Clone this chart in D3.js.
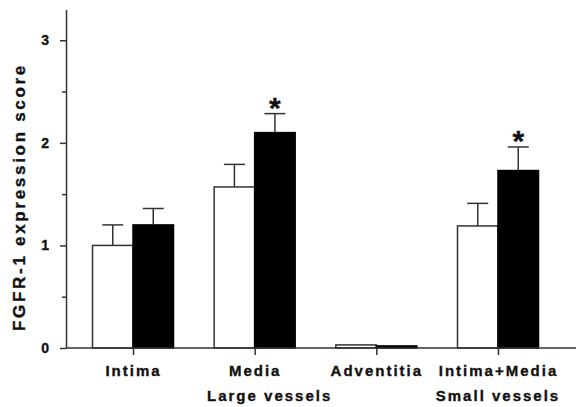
<!DOCTYPE html>
<meta charset="utf-8">
<style>
    body { margin: 0; background: #fff; }
    text { font-family: "Liberation Sans", Arial, sans-serif; font-weight: bold; fill: #111; stroke: #111; stroke-width: 0.35px; }
    .axis path, .axis line { stroke: #333; stroke-width: 1.5; }
</style>
<svg width="576" height="407"></svg>
<script src="https://d3js.org/d3.v7.min.js"></script>
<script>

    var categories = ["Intima", "Media", "Adventitia", "Intima+Media"];
    var whiteMeans = [1.00, 1.57, 0.03, 1.19];
    var whiteErr   = [0.20, 0.22, 0,    0.22];
    var blackMeans = [1.20, 2.10, 0.02, 1.73];
    var blackErr   = [0.16, 0.185, 0,   0.23];
    var significant = [false, true, false, true];
    var yTicks = [0, 1, 2, 3];
    var yMinorTicks = [0.5, 1.5, 2.5];
    var groupLabels = [["Large vessels", "Media"], ["Small vessels", "Intima+Media"]];

    var svg = d3.select("svg");

    var y = d3.scaleLinear().domain([0, 3.3]).range([348, 9.5]);
    var x = d3.scalePoint().domain(categories).range([133, 498]);
    var sub = d3.scaleBand().domain(["white", "black"]).range([-40.5, 40.5]);

    var rows = categories.map(function(c, i) {
        return [
            {cat: c, key: "white", v: whiteMeans[i], e: whiteErr[i], star: false},
            {cat: c, key: "black", v: blackMeans[i], e: blackErr[i], star: significant[i]}
        ];
    }).flat();

    // bars
    svg.append("g").selectAll("rect")
        .data(rows)
        .enter().append("rect")
        .attr("x", function(d) { return x(d.cat) + sub(d.key); })
        .attr("width", sub.bandwidth())
        .attr("y", function(d) { return y(d.v); })
        .attr("height", function(d) { return y(0) - y(d.v); })
        .attr("fill", function(d) { return d.key == "black" ? "#000" : "#fff"; })
        .attr("stroke", function(d) { return d.key == "black" ? "#000" : "#333"; })
        .attr("stroke-width", 1.5);

    // error bars (upper only)
    var eb = svg.append("g").attr("stroke", "#333").attr("stroke-width", 1.5)
        .selectAll("g")
        .data(rows.filter(function(d) { return d.e > 0; }))
        .enter().append("g")
        .attr("transform", function(d) { return "translate(" + (x(d.cat) + sub(d.key) + sub.bandwidth() / 2) + ",0)"; });
    eb.append("line")
        .attr("y1", function(d) { return y(d.v); })
        .attr("y2", function(d) { return y(d.v + d.e); });
    eb.append("line")
        .attr("x1", -10.5).attr("x2", 10.5)
        .attr("y1", function(d) { return y(d.v + d.e); })
        .attr("y2", function(d) { return y(d.v + d.e); });

    // asterisks
    svg.append("g").selectAll("text")
        .data(rows.filter(function(d) { return d.star; }))
        .enter().append("text")
        .attr("x", function(d) { return x(d.cat) + sub(d.key) + sub.bandwidth() / 2; })
        .attr("y", function(d) { return y(d.v + d.e) - 11 + 15.5; })
        .attr("text-anchor", "middle")
        .style("font-size", "30px")
        .text("*");

    // y axis
    svg.append("g")
        .attr("class", "axis")
        .attr("transform", "translate(66,0)")
        .call(d3.axisLeft(y).tickValues(yTicks).tickSize(6).tickSizeOuter(0).tickPadding(11).tickFormat(d3.format("d")))
        .call(function(g) {
            g.selectAll("text").style("font-size", "14px").style("font-family", "Liberation Sans, Arial, sans-serif").style("font-weight", "bold").attr("fill", "#111");
        });
    svg.append("g")
        .attr("class", "axis")
        .attr("transform", "translate(66,0)")
        .call(d3.axisLeft(y).tickValues(yMinorTicks).tickSize(4).tickFormat(""))
        .select(".domain").remove();

    // x axis baseline
    svg.append("line")
        .attr("x1", 66).attr("x2", 576)
        .attr("y1", y(0)).attr("y2", y(0))
        .attr("stroke", "#333").attr("stroke-width", 1.5);

    svg.append("g")
        .attr("class", "axis")
        .attr("transform", "translate(0," + y(0) + ")")
        .call(d3.axisBottom(x).tickSize(7).tickPadding(10).tickSizeOuter(0))
        .call(function(g) {
            g.select(".domain").remove();
            g.selectAll("text").style("font-size", "15px").style("letter-spacing", "2px")
                .style("font-family", "Liberation Sans, Arial, sans-serif").style("font-weight", "bold").attr("fill", "#111");
        });

    svg.append("g").selectAll("text")
        .data(groupLabels)
        .enter().append("text")
        .attr("x", function(d) { return x(d[1]) + (d[1] == "Media" ? 15 : 0); })
        .attr("y", 401)
        .attr("text-anchor", "middle")
        .style("font-size", "15px")
        .style("letter-spacing", "2px")
        .text(function(d) { return d[0]; });

    // y label
    svg.append("text")
        .attr("transform", "translate(25,197) rotate(-90)")
        .attr("text-anchor", "middle")
        .style("font-size", "17px")
        .style("letter-spacing", "2.7px")
        .text("FGFR-1 expression score");

</script>
